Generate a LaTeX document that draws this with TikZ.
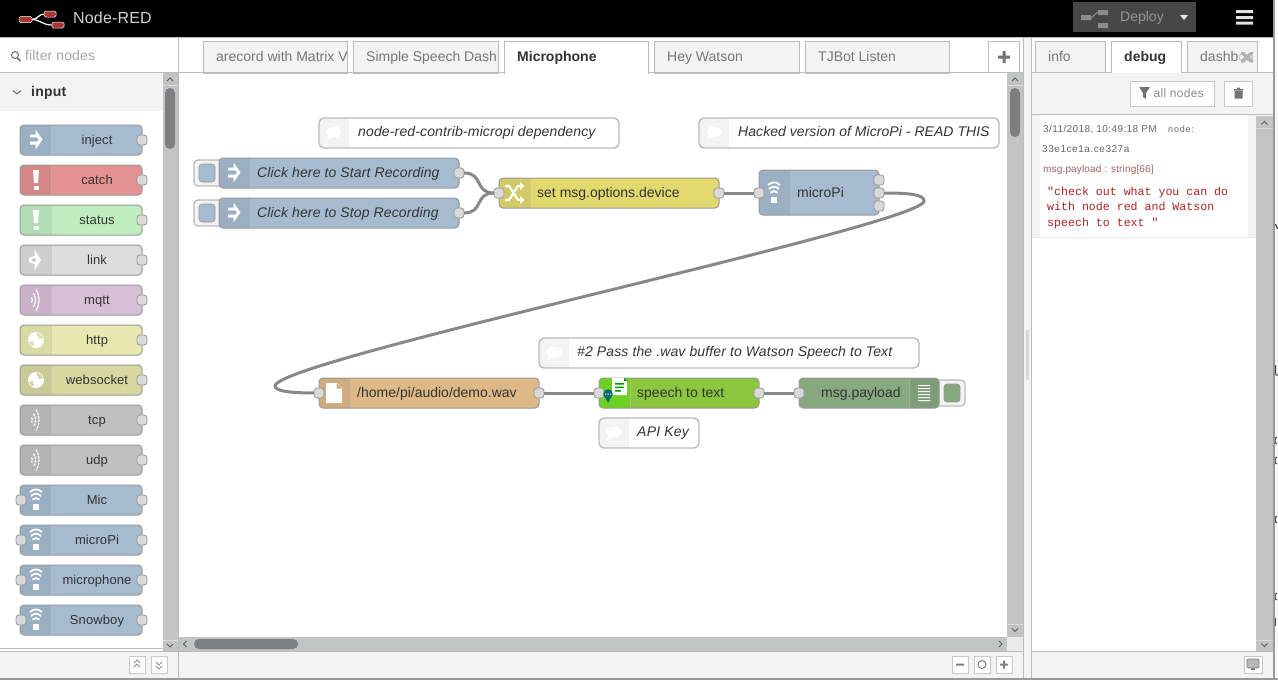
\documentclass[tikz,border=0pt]{standalone}
\usepackage{fontspec}
\setmainfont{Liberation Sans}
\setmonofont{Liberation Mono}
\definecolor{panel}{HTML}{F3F3F3}
\definecolor{sep}{HTML}{BBBBBB}
\definecolor{track}{HTML}{C2C4C3}
\definecolor{thumb}{HTML}{7B7F80}
\definecolor{txt}{HTML}{333333}
\definecolor{tabtxt}{HTML}{777777}
\definecolor{wire}{HTML}{888888}
\definecolor{portc}{HTML}{D9D9D9}
\definecolor{edge}{HTML}{999999}
\definecolor{logored}{HTML}{A83434}
\definecolor{injectc}{HTML}{A6BBCF}
\definecolor{injectd}{HTML}{9BAFC3}
\definecolor{catchc}{HTML}{E49191}
\definecolor{catchd}{HTML}{D58787}
\definecolor{statusc}{HTML}{C0EDC0}
\definecolor{statusd}{HTML}{B3DDB3}
\definecolor{linkc}{HTML}{DDDDDD}
\definecolor{linkd}{HTML}{CECECE}
\definecolor{mqttc}{HTML}{D8BFD8}
\definecolor{mqttd}{HTML}{CBB2CB}
\definecolor{httpc}{HTML}{E7E9AE}
\definecolor{httpd}{HTML}{D9DBA4}
\definecolor{wsc}{HTML}{D7D8A0}
\definecolor{wsd}{HTML}{C9CA95}
\definecolor{tcpc}{HTML}{C0C0C0}
\definecolor{tcpd}{HTML}{B3B3B3}
\definecolor{funcc}{HTML}{E2D96E}
\definecolor{funcd}{HTML}{D2CA66}
\definecolor{filec}{HTML}{DEB887}
\definecolor{filed}{HTML}{CFAB7E}
\definecolor{sttc}{HTML}{8BC63E}
\definecolor{sttd}{HTML}{6CD11F}
\definecolor{dbgc}{HTML}{87A980}
\definecolor{dbgd}{HTML}{7E9D77}
\definecolor{msgred}{HTML}{B22222}
\definecolor{msgmeta}{HTML}{A56060}
\tikzset{
  flowbody/.style={draw=edge,line width=1pt,rounded corners=4pt,inner sep=0pt,outer sep=0pt},
  notebody/.style={draw=sep,line width=1.4pt,rounded corners=5pt,inner sep=0pt,outer sep=0pt},
  portst/.style={draw=edge,fill=portc,line width=.8pt,rounded corners=3pt,minimum width=10pt,minimum height=10pt,inner sep=0pt,outer sep=0pt},
  wirest/.style={draw=wire,line width=3pt},
  lbl/.style={inner sep=0pt,text=txt,font=\fontsize{14}{16}\selectfont,anchor=mid west,yshift=-1.8pt},
  pallbl/.style={inner sep=0pt,text=txt,font=\fontsize{13}{16}\selectfont\addfontfeature{LetterSpace=.8},anchor=mid,yshift=-1.3pt},
  ital/.style={inner sep=0pt,text=txt,font=\fontsize{14}{16}\itshape\selectfont\addfontfeature{LetterSpace=#1},anchor=mid west,yshift=-1.8pt},
  ital/.default=1,
  tabst/.style={draw=sep,fill=#1,line width=1pt,inner sep=0pt,outer sep=0pt},
  tabtext/.style={inner sep=0pt,text=tabtxt,font=\fontsize{14}{16}\selectfont,anchor=mid west,yshift=-1.8pt},
  metatext/.style={inner sep=0pt,text=black!60,anchor=mid west,yshift=-1pt},
  btnst/.style={draw=sep!80,fill=white,line width=1pt,inner sep=0pt,outer sep=0pt},
  chv/.style={draw=txt!80,line width=.9pt},
}
\newcommand\setgeo[4]{\pgfmathsetmacro\gcx{(#1+#3)/2}\pgfmathsetmacro\gcy{(#2+#4)/2}\pgfmathsetmacro\gw{#3-#1}\pgfmathsetmacro\gh{#4-#2}}
% name x1 y1 x2 y2 fill tabfill
\newcommand\fnode[7]{\setgeo{#2}{#3}{#4}{#5}%
  \fill[#6,rounded corners=4pt] (#2,#3) rectangle (#4,#5);
  \fill[#7,rounded corners=4pt] (#2+31,#3) -| (#2,#5) -- (#2+31,#5);
  \draw[black!25,opacity=.5,line width=.8pt] (#2+31,#3) -- (#2+31,#5);
  \node[flowbody,minimum width=\gw pt,minimum height=\gh pt] (#1) at (\gcx,\gcy) {};}
\newcommand\notenode[5]{\setgeo{#2}{#3}{#4}{#5}%
  \fill[white,rounded corners=5pt] (#2,#3) rectangle (#4,#5);
  \fill[panel,rounded corners=5pt] (#2+30,#3) -| (#2,#5) -- (#2+30,#5);
  \node[notebody,minimum width=\gw pt,minimum height=\gh pt] (#1) at (\gcx,\gcy) {};
  \fill[white] (#2+15,#3+14) ellipse (7.5 and 5.5);
  \fill[white] (#2+10,#3+17) -- (#2+7.5,#3+22.5) -- (#2+15,#3+18) -- cycle;}
\newcommand\port[3]{\node[portst] (#1) at (#2,#3) {};}
\newcommand\icoInject[2]{\begin{scope}[shift={(#1,#2)}]
  \fill[white] (-6,-5) rectangle (-2,-2.2) (-6,2.2) rectangle (-2,5);
  \fill[white] (-.5,-10) -- (6.5,0) -- (-.5,10) -- (-.5,5) -- (-2,5) -- (-2,2.2) -- (.8,2.2) -- (3,0) -- (.8,-2.2) -- (-2,-2.2) -- (-2,-5) -- (-.5,-5) -- cycle;
  \end{scope}}
\newcommand\icoBang[3]{\begin{scope}[shift={(#1,#2)}]
  \fill[#3] (-3,-10) -- (3,-10) -- (2,3) -- (-2,3) -- cycle;
  \fill[#3] (-2.5,6) rectangle (2.5,10);\end{scope}}
\newcommand\icoWifi[2]{\begin{scope}[shift={(#1,#2)}]
  \draw[white,line width=1.8pt] (-6,-8) .. controls (-2,-11.5) and (2,-11.5) .. (6,-8);
  \draw[white,line width=1.8pt] (-5,-4) .. controls (-2,-7) and (2,-7) .. (5,-4);
  \draw[white,line width=1.8pt] (-3.5,-.3) .. controls (-1.5,-2.5) and (1.5,-2.5) .. (3.5,-.3);
  \fill[white] (-2.7,4) rectangle (2.7,9.5);\end{scope}}
\newcommand\icoSide[3][]{\begin{scope}[shift={(#2,#3)},line width=1.2pt,white,#1]
  \draw (-2.5,-2.5) .. controls (-1,-1) and (-1,1) .. (-2.5,2.5);
  \draw (-.5,-6.5) .. controls (2.2,-2.5) and (2.2,2.5) .. (-.5,6.5);
  \draw (2,-10.5) .. controls (6,-4) and (6,4) .. (2,10.5);\end{scope}}
\newcommand\icoLink[3]{\begin{scope}[shift={(#1,#2)}]
  \fill[white] (-1.5,-10.5) -- (5,0) -- (-1.5,10.5) -- (-1.5,4) -- (-7,2.5) -- (-7,-2.5) -- (-1.5,-4) -- cycle;
  \fill[#3] (-2,0) circle (2);\end{scope}}
\newcommand\icoGlobe[3]{\begin{scope}[shift={(#1,#2)}]
  \fill[white] (0,0) circle (8);
  \fill[#3,opacity=.8] (.5,-7.5) .. controls (4,-6.5) and (6,-4.5) .. (7.5,-2) -- (3.5,-1) -- (1.5,-4) -- cycle;
  \fill[#3,opacity=.8] (-7.5,2) -- (-3,1) -- (-2,5) -- (-4,6.5) -- cycle;
  \end{scope}}
\newcommand\pal[6]{\fnode{#1}{20}{#2}{142}{#2+30}{#3}{#4}
  \port{#1o}{142}{#2+15}
  \node[pallbl] (#1l) at (97,#2+15.5) {#5};
  #6}
\newcommand\chevUp[2]{\draw[chv] (#1-3,#2+2) -- (#1,#2-1) -- (#1+3,#2+2);}
\newcommand\chevDn[2]{\draw[chv] (#1-3,#2-1.5) -- (#1,#2+1.5) -- (#1+3,#2-1.5);}
\newcommand\chevLf[2]{\draw[chv] (#1+1.5,#2-3) -- (#1-1.5,#2) -- (#1+1.5,#2+3);}
\newcommand\chevRt[2]{\draw[chv] (#1-1.5,#2-3) -- (#1+1.5,#2) -- (#1-1.5,#2+3);}
\newcommand\btn[5]{\setgeo{#2}{#3}{#4}{#5}\node[btnst,minimum width=\gw pt,minimum height=\gh pt] (#1) at (\gcx,\gcy) {};}
\newcommand\wtabbox[4]{\setgeo{#2}{41}{#3}{73}%
  \node[tabst=#4,minimum width=\gw pt,minimum height=\gh pt] (#1) at (\gcx,\gcy) {};}
\newcommand\wtab[5]{\wtabbox{#1}{#2}{#3}{#4}%
  \begin{scope}\clip (#2,41) rectangle (#3-.6,72);\node[tabtext] (#1t) at (#2+13,57) {#5};\end{scope}}
\begin{document}
\begin{tikzpicture}[x=1pt,y=-1pt]
\useasboundingbox (0,0) rectangle (1278,680);
\fill[white] (0,0) rectangle (1278,680);
\fill[panel!60] (1275,38) rectangle (1278,680);
% top bar
\fill[black] (0,0) rectangle (1273,37);
\draw[white!70,line width=1.2pt] (32,19.5) .. controls (38,19.5) and (38,14) .. (45,14);
\draw[white!70,line width=1.2pt] (32,19.5) .. controls (40,19.5) and (42,25) .. (52,25);
\fill[draw=white!60,line width=.5pt,rounded corners=1.5pt,fill=logored] (19,16.5) rectangle (32,22.5);
\fill[draw=white!60,line width=.5pt,rounded corners=1.5pt,fill=logored] (44,11) rectangle (56,17);
\fill[draw=white!60,line width=.5pt,rounded corners=1.5pt,fill=logored] (52,22) rectangle (64,28);
\node[inner sep=0pt,text=black!18,font=\fontsize{16}{18}\selectfont\addfontfeature{LetterSpace=1},anchor=mid west,yshift=-1.5pt] (brand) at (73,19.5) {Node-RED};
% deploy
\fill[black!72] (1073,2) rectangle (1196,32);
\fill[black!45] (1081,15) rectangle (1091,20) (1098,10) rectangle (1108,15) (1098,23) rectangle (1108,28);
\draw[black!45,line width=1pt] (1091,18) -- (1098,12);
\node[tabtext,text=black!42] (deploy) at (1120,17.5) {Deploy};
\fill[white!90!black] (1180,15) -- (1188,15) -- (1184,20) -- cycle;
\fill[black!12] (1236,10) rectangle (1253,13) (1236,16) rectangle (1253,19) (1236,21.5) rectangle (1253,24.5);
% palette
\fill[white] (0,38) rectangle (178,651);
\draw[sep,line width=1pt] (0,37.5) -- (1273,37.5);
\draw[black!55,line width=1.1pt] (15,55) circle (3.5);
\draw[black!55,line width=1.6pt] (17.5,58) -- (20.5,61);
\node[tabtext,text=black!35,font=\fontsize{14}{16}\selectfont\addfontfeature{LetterSpace=1}] (filter) at (25,56.5) {filter nodes};
\draw[sep,line width=1pt] (0,72.5) -- (178,72.5);
\fill[panel] (0,73) rectangle (163,111);
\draw[black!60,line width=.9pt] (13,90.5) -- (17,94) -- (21,90.5);
\node[lbl,font=\fontsize{14}{16}\bfseries\selectfont\addfontfeature{LetterSpace=1.5}] (inputhdr) at (31,92) {input};
\pal{pinject}{125}{injectc}{injectd}{inject}{\icoInject{36}{139.5}}
\pal{pcatch}{165}{catchc}{catchd}{catch}{\icoBang{36}{180}{white}}
\pal{pstatus}{205}{statusc}{statusd}{status}{\icoBang{36}{220}{white}}
\pal{plink}{245}{linkc}{linkd}{link}{\icoLink{36}{260}{linkd}}
\pal{pmqtt}{285}{mqttc}{mqttd}{mqtt}{\icoSide{34}{300}}
\pal{phttp}{325}{httpc}{httpd}{http}{\icoGlobe{36}{340}{httpd}}
\pal{pws}{365}{wsc}{wsd}{websocket}{\icoGlobe{36}{380}{wsd}}
\pal{ptcp}{405}{tcpc}{tcpd}{tcp}{\icoSide[dash pattern=on 2.5pt off 1pt]{34}{420}}
\pal{pudp}{445}{tcpc}{tcpd}{udp}{\icoSide[dash pattern=on 2.5pt off 1pt]{34}{460}}
\pal{pmic}{485}{injectc}{injectd}{Mic}{\icoWifi{36}{500}}
\pal{pmicro}{525}{injectc}{injectd}{microPi}{\icoWifi{36}{540}}
\pal{pphone}{565}{injectc}{injectd}{microphone}{\icoWifi{36}{580}}
\pal{psnow}{605}{injectc}{injectd}{Snowboy}{\icoWifi{36}{620}}
\port{pmici}{21}{500}\port{pmicroi}{21}{540}\port{pphonei}{21}{580}\port{psnowi}{21}{620}
% palette scrollbar
\fill[track] (163,73) rectangle (178,651);
\fill[thumb,rounded corners=5pt] (165,88) rectangle (175,149);
\chevUp{170}{79}\chevDn{170}{645.5}
\draw[black!15,line width=.6pt] (163,85) -- (178,85) (163,640) -- (178,640);
\fill[white] (0,647) rectangle (163,651);
\draw[sep,line width=1pt] (0,648.5) -- (163,648.5);
% palette footer
\fill[panel] (0,651) rectangle (178,678);
\draw[sep,line width=1pt] (0,651.5) -- (178,651.5);
\btn{pup}{129}{656}{145}{673}{}\btn{pdn}{151}{656}{167}{673}{}
\draw[chv,black!45] (134,663) -- (137,660) -- (140,663) (134,667) -- (137,664) -- (140,667);
\draw[chv,black!45] (156,662) -- (159,665) -- (162,662) (156,666) -- (159,669) -- (162,666);
\draw[sep,line width=1pt] (178.5,38) -- (178.5,678);
% workspace tabs
\wtab{tab1}{203}{347}{panel}{arecord with Matrix V}
\wtab{tab2}{353}{498}{panel}{Simple Speech Dash}
\wtabbox{tab3}{504}{648}{white}
\node[lbl,font=\fontsize{14}{16}\bfseries\selectfont] (tab3t) at (517,57) {Microphone};
\wtab{tab4}{654}{799}{panel}{Hey Watson}
\wtab{tab5}{805}{949}{panel}{TJBot Listen}
\node[btnst,draw=sep,minimum width=31pt,minimum height=31pt] (addtab) at (1003.5,57) {};
\fill[black!55] (998,55.5) rectangle (1010,58.5) (1002.5,51) rectangle (1005.5,63);
\draw[sep,line width=1pt] (179,72.5) -- (504,72.5) (648,72.5) -- (1023,72.5);
\fill[white] (504.5,70) rectangle (647.5,74);
% workspace scrollbars
\fill[track] (1007,73) rectangle (1023,637);
\fill[thumb,rounded corners=5pt] (1010,88) rectangle (1020,137);
\chevUp{1015}{79}\chevDn{1015}{630}
\draw[black!15,line width=.6pt] (1007,85) -- (1023,85) (1007,624) -- (1023,624);
\fill[track] (179,637) rectangle (1007,651);
\fill[thumb,rounded corners=5pt] (194,639) rectangle (298,649);
\chevLf{185}{644}\chevRt{1000.5}{644}
\fill[panel!80!track] (1007,637) rectangle (1023,651);
\fill[panel] (179,651) rectangle (1023,678);
\draw[sep,line width=1pt] (179,651.5) -- (1023,651.5);
\btn{zout}{952}{656}{968}{673}{}\btn{zreset}{974}{656}{990}{673}{}\btn{zin}{996}{656}{1012}{673}{}
\fill[black!50] (956,663.5) rectangle (964,665.5) (1000,663.5) rectangle (1008,665.5) (1003,660.5) rectangle (1005,668.5);
\draw[black!50,line width=1pt] (982,664.5) circle (4);
% separator
\fill[panel] (1023,38) rectangle (1032,678);
\draw[sep,line width=1pt] (1023.5,38) -- (1023.5,678) (1031.5,38) -- (1031.5,678);
\fill[black!15] (1026,330) rectangle (1029,380);
% canvas comments
\notenode{c1}{319}{118}{619}{148}
\node[ital] (c1t) at (358,132.5) {node-red-contrib-micropi dependency};
\notenode{c2}{699}{118}{999}{148}
\node[ital=.4] (c2t) at (738,132.5) {Hacked version of MicroPi - READ THIS};
\notenode{c3}{539}{338}{919}{368}
\node[ital] (c3t) at (577,352.5) {\#2 Pass the .wav buffer to Watson Speech to Text};
\notenode{c4}{599}{418}{699}{448}
\node[ital=1.6] (c4t) at (637,432.5) {API Key};
% inject buttons
\draw[sep,fill=panel,line width=1.2pt,rounded corners=4pt] (222,160) -- (194,160) -- (194,186) -- (222,186);
\fill[injectc,draw=edge,line width=.6pt,rounded corners=3pt] (199,164) rectangle (215,182);
\draw[sep,fill=panel,line width=1.2pt,rounded corners=4pt] (222,200) -- (194,200) -- (194,226) -- (222,226);
\fill[injectc,draw=edge,line width=.6pt,rounded corners=3pt] (199,204) rectangle (215,222);
% flow nodes
\fnode{nstart}{219}{158}{459}{188}{injectc}{injectd}
\icoInject{234}{172.5}
\node[ital] (nstartt) at (257,173) {Click here to Start Recording};
\port{nstarto}{459}{173}
\fnode{nstop}{219}{198}{459}{228}{injectc}{injectd}
\icoInject{234}{212.5}
\node[ital] (nstopt) at (257,213) {Click here to Stop Recording};
\port{nstopo}{459}{213}
\fnode{nset}{499}{178}{719}{208}{funcc}{funcd}
\begin{scope}[shift={(514,193)}]
 \draw[white,line width=2.2pt] (-9,-7) -- (-5,-7) -- (4,7) -- (7,7);
 \draw[white,line width=2.2pt] (-9,7) -- (-5,7) -- (4,-7) -- (7,-7);
 \fill[white] (6,-11) -- (10.5,-7) -- (6,-3) -- cycle (6,3) -- (10.5,7) -- (6,11) -- cycle;
\end{scope}
\node[lbl] (nsett) at (537,193) {set msg.options.device};
\port{nseti}{499}{193}\port{nseto}{719}{193}
\fnode{nmic}{759}{170}{879}{215}{injectc}{injectd}
\icoWifi{774}{193}
\node[lbl] (nmict) at (797,193) {microPi};
\port{nmici}{759}{193}\port{nmico1}{879}{180}\port{nmico2}{879}{193}\port{nmico3}{879}{206}
\fnode{nfile}{319}{378}{539}{408}{filec}{filed}
\fill[white] (326,383) -- (337,383) -- (342,388) -- (342,403) -- (326,403) -- cycle;
\fill[filed] (336.5,383) -- (336.5,388.5) -- (342,388.5) -- cycle;
\node[lbl] (nfilet) at (357,393) {/home/pi/audio/demo.wav};
\port{nfilei}{319}{393}\port{nfileo}{539}{393}
\fnode{nstt}{599}{378}{759}{408}{sttc}{sttd}
\fill[white] (612,378) -- (624,378) -- (627,381) -- (627,395) -- (612,395) -- cycle;
\fill[green!55!black!90!teal] (624,378) -- (627,381) -- (624,381) -- cycle;
\fill[green!60!black] (615,383) rectangle (624,384.5) (615,386.5) rectangle (624,388) (615,390) rectangle (621,391.5);
\node[lbl] (nsttt) at (637,393) {speech to text};
\port{nstti}{599}{393}\port{nstto}{759}{393}
\fill[teal!85!black] (608,394) circle (4.8);
\fill[teal!85!black] (605,397) -- (608,403) -- (611,397) -- cycle;
\fill[white] (605,393.5) rectangle (606.2,394.7) (607.4,393.5) rectangle (608.6,394.7) (609.8,393.5) rectangle (611,394.7);
% debug node with its button
\draw[sep,fill=panel,line width=1.2pt,rounded corners=4pt] (935,380) -- (965,380) -- (965,406) -- (935,406);
\fill[dbgc,draw=edge,line width=.6pt,rounded corners=3pt] (944,384) rectangle (960,402);
\fill[dbgc,rounded corners=4pt] (799,378) rectangle (939,408);
\fill[dbgd,rounded corners=4pt] (909,378) -| (939,408) -- (909,408);
\draw[black!25,opacity=.5,line width=.8pt] (909,378) -- (909,408);
\node[flowbody,minimum width=140pt,minimum height=30pt] (ndbg) at (869,393) {};
\fill[white] (918,385) rectangle (930,386.2) (918,388) rectangle (930,389.2) (918,391) rectangle (930,392.2) (918,394) rectangle (930,395.2) (918,397) rectangle (930,398.2) (918,400) rectangle (930,401.2);
\node[lbl] (ndbgt) at (821,393) {msg.payload};
\port{ndbgi}{799}{393}
% wires
\draw[wirest] (nstarto.east) .. controls +(20,0) and +(-20,0) .. (nseti.west);
\draw[wirest] (nstopo.east) .. controls +(20,0) and +(-20,0) .. (nseti.west);
\draw[wirest] (nseto.east) -- (nmici.west);
\coordinate (bendR) at (924,201);
\coordinate (bendL) at (275,386);
\draw[wirest] (nmico2.east) .. controls +(28,0) and (924,195) .. (bendR)
   .. controls (924,225) and (275,360) .. (bendL)
   .. controls (275,391) and (290,393) .. (nfilei.west);
\draw[wirest] (nfileo.east) -- (nstti.west);
\draw[wirest] (nstto.east) -- (ndbgi.west);
% right sidebar
\fill[white] (1032,38) rectangle (1273,73);
\wtab{info}{1035}{1105}{panel}{info}
\wtabbox{dbg}{1111}{1181}{white}
\node[lbl,font=\fontsize{14}{16}\bfseries\selectfont] (dbgt) at (1124,57) {debug};
\wtab{dash}{1187}{1257}{panel}{dashb{\color{black!22}oa}}
\fill[black!30] (1241,52) -- (1244,52) -- (1247,55) -- (1250,52) -- (1253,52) -- (1253,54) -- (1249.5,57) -- (1253,60) -- (1253,62.5) -- (1250,62.5) -- (1247,59.5) -- (1244,62.5) -- (1241,62.5) -- (1241,60) -- (1244.5,57) -- (1241,54) -- cycle;
\draw[sep,line width=1pt] (1032,72.5) -- (1111,72.5) (1181,72.5) -- (1273,72.5);
\fill[panel] (1032,73) rectangle (1273,114);
\fill[white] (1111.5,70) rectangle (1180.5,73);
\btn{allnodes}{1130.5}{81.5}{1214}{106}{}
\fill[black!55] (1139,87) -- (1150,87) -- (1146,93) -- (1146,99) -- (1143,97) -- (1143,93) -- cycle;
\node[tabtext,text=black!45,font=\fontsize{12}{14}\selectfont\addfontfeature{LetterSpace=2.5},yshift=.5pt] (allnodest) at (1153.5,94) {all nodes};
\btn{trash}{1224.5}{81.5}{1252}{106}{}
\fill[black!55] (1234,89) rectangle (1243,90.5) (1237,87.5) rectangle (1240,89) (1234.5,91) rectangle (1242.5,98.5);
\draw[sep,line width=1pt] (1032,114.5) -- (1273,114.5);
\fill[panel] (1032,115) rectangle (1040,237);
\fill[white] (1040,115) rectangle (1248,237);
\fill[panel] (1248,115) rectangle (1256,237);
\fill[white] (1032,237) rectangle (1256,651);
\draw[black!8,line width=1pt] (1032,237.5) -- (1256,237.5);
\node[metatext,font=\fontsize{10}{12}\selectfont\addfontfeature{LetterSpace=4}] (msgdate) at (1043,128.5) {3/11/2018, 10:49:18 PM};
\node[metatext,font=\fontsize{9}{12}\selectfont\addfontfeature{LetterSpace=9}] (msgnode) at (1168,128.5) {node:};
\node[metatext,font=\fontsize{10}{12}\selectfont\addfontfeature{LetterSpace=5.5}] (msgid) at (1042,148.5) {33e1ce1a.ce327a};
\node[metatext,text=msgmeta,font=\fontsize{10}{12}\selectfont\addfontfeature{LetterSpace=1.6}] (msgtype) at (1043,168.5) {msg.payload : string[66]};
\node[inner sep=0pt,text=msgred,font=\fontsize{11.6}{15.5}\ttfamily\selectfont,anchor=north west,align=left] (msgbody) at (1047,186.5) {"check out what you can do\\with node red and Watson\\speech to text "};
\fill[track] (1256,116) rectangle (1273,651);
\chevUp{1264.5}{122.5}\chevDn{1264.5}{645}
\draw[black!15,line width=.6pt] (1256,128) -- (1273,128) (1256,640) -- (1273,640);
\fill[panel] (1032,651) rectangle (1273,678);
\draw[sep,line width=1pt] (1032,651.5) -- (1273,651.5);
\btn{deskbtn}{1244}{656}{1262}{673}{}
\fill[black!28,draw=black!50,line width=.7pt,rounded corners=1pt] (1247,659) rectangle (1259,668);
\fill[black!50] (1251,668) rectangle (1255,670);
% slivers of the page behind, cut off at the right edge
\draw[black!75,line width=1.2pt] (1275.5,224) -- (1277.5,229) (1275.5,365) -- (1275.5,374) (1275.5,375) -- (1278,375);
\draw[black!70,line width=1.2pt] (1276.8,444) arc (90:270:1.8 and 3.5) (1276.8,464) arc (90:270:1.8 and 3.5) (1277,523) arc (90:270:1.8 and 3.5) (1276.8,600) arc (90:270:1.8 and 3.5);
\draw[black!70,line width=1.2pt] (1275.5,618) -- (1275.5,626);
% outer edges
\draw[black!40,line width=2pt] (1274,0) -- (1274,680);
\draw[black!40,line width=2pt] (0,679) -- (1278,679);
\end{tikzpicture}
\end{document}
